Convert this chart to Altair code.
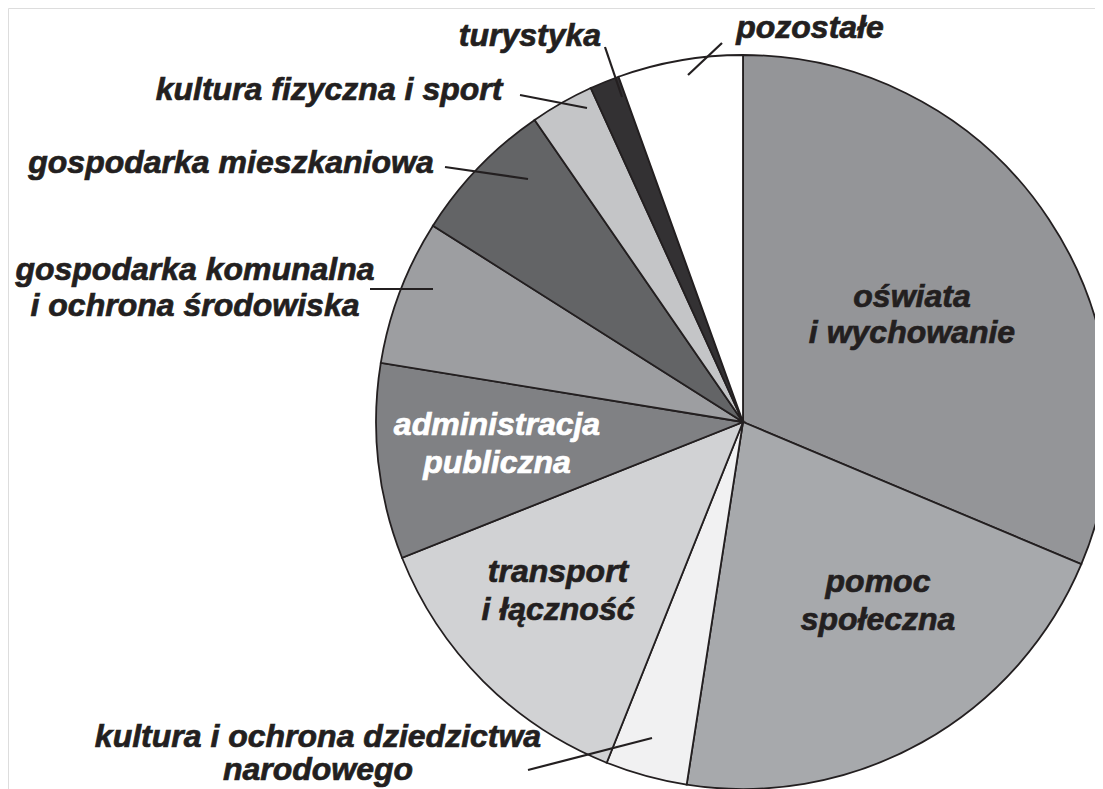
import altair as alt
import pandas as pd

# ---- data (% of total) ----
categories = [
    "oświata i wychowanie",
    "pomoc społeczna",
    "kultura i ochrona dziedzictwa narodowego",
    "transport i łączność",
    "administracja publiczna",
    "gospodarka komunalna i ochrona środowiska",
    "gospodarka mieszkaniowa",
    "kultura fizyczna i sport",
    "turystyka",
    "pozostałe",
]
values = [31.3, 21.1, 3.6, 12.9, 8.6, 6.4, 6.4, 2.8, 1.3, 5.5]
colors = ["#949598", "#a7a9ac", "#f1f1f2", "#d1d2d4", "#808184",
          "#9d9ea1", "#636466", "#c4c5c7", "#333133", "#ffffff"]

# ---- annotation layout (pixels in the plot area) ----
label_lines = [
    # text, x, y, colour
    ("oświata", 904, 289, "#231f20"),
    ("i wychowanie", 904, 325, "#231f20"),
    ("pomoc", 870, 574, "#231f20"),
    ("społeczna", 870, 612, "#231f20"),
    ("transport", 550, 564, "#231f20"),
    ("i łączność", 550, 602, "#231f20"),
    ("administracja", 489, 417, "#ffffff"),
    ("publiczna", 489, 455, "#ffffff"),
    ("gospodarka komunalna", 187, 262, "#231f20"),
    ("i ochrona środowiska", 187, 298, "#231f20"),
    ("gospodarka mieszkaniowa", 223, 155, "#231f20"),
    ("kultura fizyczna i sport", 321, 82, "#231f20"),
    ("turystyka", 522, 28, "#231f20"),
    ("pozostałe", 802, 20, "#231f20"),
    ("kultura i ochrona dziedzictwa", 310, 729, "#231f20"),
    ("narodowego", 310, 762, "#231f20"),
]
leaders = [
    # x, y, x2, y2
    (714, 35, 680, 67),
    (597, 39, 614, 89),
    (512, 87, 579, 100),
    (437, 159, 520, 171),
    (362, 281, 425, 281),
    (520, 762, 644, 730),
]

cx, cy, r = 735, 414, 367

pie_df = pd.DataFrame({"category": categories, "value": values,
                       "order": list(range(len(categories)))})
lab_df = pd.DataFrame(label_lines, columns=["text", "px", "py", "col"])
lead_df = pd.DataFrame(leaders, columns=["x1", "y1", "x2", "y2"])

pie = alt.Chart(pie_df).mark_arc(
    radius=r, stroke="#231f20", strokeWidth=1.8
).encode(
    theta=alt.Theta("value:Q", stack=True),
    order=alt.Order("order:Q"),
    color=alt.Color("category:N",
                    scale=alt.Scale(domain=categories, range=colors),
                    legend=None),
    x=alt.value(cx),
    y=alt.value(cy),
)

lead = alt.Chart(lead_df).mark_rule(color="#231f20", strokeWidth=2.2).encode(
    x=alt.X("x1:Q", scale=None, axis=None),
    y=alt.Y("y1:Q", scale=None, axis=None),
    x2="x2:Q",
    y2="y2:Q",
)

text = alt.Chart(lab_df).mark_text(
    font="Liberation Sans", fontStyle="italic", fontWeight="bold",
    fontSize=32, baseline="middle", align="center", strokeWidth=0.7
).encode(
    x=alt.X("px:Q", scale=None, axis=None),
    y=alt.Y("py:Q", scale=None, axis=None),
    text="text:N",
    color=alt.Color("col:N", scale=None, legend=None),
    stroke=alt.Stroke("col:N", scale=None, legend=None),
)

chart = alt.layer(pie, lead, text).properties(
    width=1087, height=781,
    autosize=alt.AutoSizeParams(type="none"),
    padding=0,
).configure_view(stroke=None).configure(background="white")

chart.save("out.html", embed_options={"renderer": "svg", "actions": False})
